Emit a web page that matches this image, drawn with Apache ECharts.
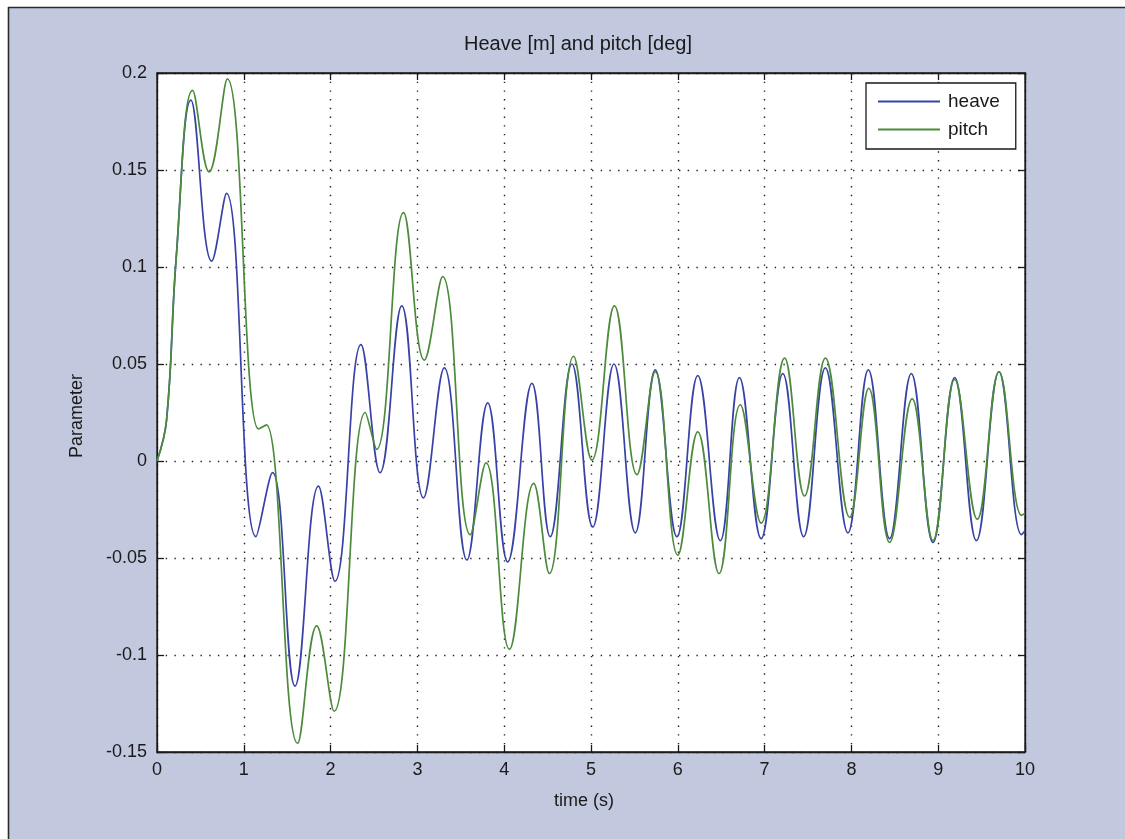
<!DOCTYPE html>
<html>
<head>
<meta charset="utf-8">
<title>Heave and pitch</title>
<script src="https://cdn.jsdelivr.net/npm/echarts@6/dist/echarts.min.js"></script>
<style>
  html, body { margin: 0; padding: 0; background: #ffffff; }
  #chart { width: 1125px; height: 839px; }
</style>
</head>
<body>
<div id="chart"></div>
<script>
// Time axis ticks (s) and parameter axis ticks
var xTicks = [0, 1, 2, 3, 4, 5, 6, 7, 8, 9, 10];
var yTicks = [-0.15, -0.1, -0.05, 0, 0.05, 0.1, 0.15, 0.2];

// Heave response: turning points of the trace (time s, heave m)
var heaveT = [0, 0.11, 0.22, 0.39, 0.63, 0.80, 1.14, 1.33, 1.59, 1.86, 2.05, 2.35, 2.57, 2.82, 3.07, 3.31, 3.57, 3.81,
              4.04, 4.32, 4.53, 4.78, 5.02, 5.265, 5.51, 5.74, 5.99, 6.23, 6.49, 6.71, 6.96, 7.21, 7.45,
              7.70, 7.96, 8.195, 8.44, 8.69, 8.94, 9.19, 9.44, 9.70, 9.96, 10];
var heaveV = [0, 0.021, 0.104, 0.186, 0.103, 0.138, -0.039, -0.006, -0.116, -0.013, -0.062, 0.060, -0.006, 0.080, -0.019,
              0.048, -0.051, 0.030, -0.052, 0.040, -0.039, 0.050, -0.034, 0.050, -0.037, 0.047, -0.039,
              0.044, -0.041, 0.043, -0.040, 0.045, -0.039, 0.048, -0.037, 0.047, -0.040, 0.045, -0.042,
              0.043, -0.041, 0.046, -0.038, -0.036];

// Pitch response: turning points of the trace (time s, pitch deg)
var pitchT = [0, 0.11, 0.22, 0.41, 0.60, 0.81, 1.17, 1.26, 1.62, 1.84, 2.04, 2.40, 2.53, 2.84, 3.08, 3.29, 3.61, 3.79,
              4.06, 4.34, 4.52, 4.80, 5.01, 5.27, 5.53, 5.74, 6.00, 6.23, 6.475, 6.72, 6.96, 7.23, 7.46,
              7.70, 7.98, 8.20, 8.44, 8.70, 8.94, 9.19, 9.45, 9.70, 9.96, 10];
var pitchV = [0, 0.021, 0.104, 0.191, 0.149, 0.197, 0.0165, 0.0186, -0.1455, -0.085, -0.129, 0.025, 0.006, 0.128, 0.052,
              0.095, -0.038, -0.001, -0.097, -0.0115, -0.058, 0.054, 0.0005, 0.080, -0.007, 0.046, -0.0485,
              0.015, -0.058, 0.029, -0.032, 0.053, -0.018, 0.053, -0.029, 0.0375, -0.042, 0.032, -0.041,
              0.042, -0.030, 0.046, -0.028, -0.027];

function pairs(ts, vs) {
  return ts.map(function (t, i) { return [t, vs[i]]; });
}

var FONT = '"Liberation Sans", Arial, sans-serif';
var FIG_BG = '#c2c9df';
var INK = '#1a1a1a';
var HEAVE_COLOR = '#3842a6';
var PITCH_COLOR = '#4b8b3b';

var tickFmt = function (v) { return String(+v.toFixed(2)); };

var gridDots = { show: true, lineStyle: { color: '#222', width: 1.4, type: [1.4, 7.3] } };

function xAxisCfg(pos, labels) {
  return {
    type: 'value', position: pos,
    min: xTicks[0], max: xTicks[xTicks.length - 1], interval: 1,
    axisLine: { show: true, onZero: false, lineStyle: { color: INK, width: 1.3 } },
    axisTick: { show: true, inside: true, length: 7, lineStyle: { color: INK, width: 1.3 } },
    axisLabel: { show: labels, color: INK, fontFamily: FONT, fontSize: 18, margin: 9, formatter: tickFmt },
    splitLine: labels ? gridDots : { show: false }
  };
}
function yAxisCfg(pos, labels) {
  return {
    type: 'value', position: pos,
    min: yTicks[0], max: yTicks[yTicks.length - 1], interval: 0.05,
    axisLine: { show: true, onZero: false, lineStyle: { color: INK, width: 1.3 } },
    axisTick: { show: true, inside: true, length: 7, lineStyle: { color: INK, width: 1.3 } },
    axisLabel: { show: labels, color: INK, fontFamily: FONT, fontSize: 18, margin: 10, formatter: tickFmt },
    splitLine: labels ? gridDots : { show: false }
  };
}

var chart = echarts.init(document.getElementById('chart'), null, { renderer: 'canvas' });

chart.setOption({
  animation: false,
  backgroundColor: FIG_BG,
  grid: {
    left: 157, top: 73, right: 100, bottom: 87,
    show: true, backgroundColor: '#ffffff', borderColor: INK, borderWidth: 1.3,
    outerBoundsMode: 'none', containLabel: false
  },
  xAxis: [xAxisCfg('bottom', true), xAxisCfg('top', false)],
  yAxis: [yAxisCfg('left', true), yAxisCfg('right', false)],
  legend: {
    left: 866, top: 83,
    orient: 'vertical',
    backgroundColor: '#ffffff',
    borderColor: INK, borderWidth: 1.3, borderRadius: 0,
    padding: [9, 16, 10, 12],
    icon: 'rect',
    itemWidth: 62, itemHeight: 2, itemGap: 9,
    textStyle: { color: INK, fontFamily: FONT, fontSize: 19, padding: [0, 0, 0, 3] },
    data: ['heave', 'pitch']
  },
  graphic: [
    // figure frame: white margin strips and the dark frame edge
    { type: 'rect', silent: true, z: -1, shape: { x: 0, y: 0, width: 1125, height: 7 }, style: { fill: '#ffffff' } },
    { type: 'rect', silent: true, z: -1, shape: { x: 0, y: 0, width: 8, height: 839 }, style: { fill: '#ffffff' } },
    { type: 'line', silent: true, shape: { x1: 8, y1: 7.5, x2: 1125, y2: 7.5 }, style: { stroke: '#2a2a2a', lineWidth: 1.6 } },
    { type: 'line', silent: true, shape: { x1: 8.5, y1: 7, x2: 8.5, y2: 839 }, style: { stroke: '#2a2a2a', lineWidth: 1.6 } },
    // title
    { type: 'text', silent: true, x: 578, y: 44,
      style: { text: 'Heave [m] and pitch [deg]', fill: INK, font: '20px ' + FONT, textAlign: 'center', textVerticalAlign: 'middle' } },
    // axis names
    { type: 'text', silent: true, x: 584, y: 801,
      style: { text: 'time (s)', fill: INK, font: '18px ' + FONT, textAlign: 'center', textVerticalAlign: 'middle' } },
    { type: 'text', silent: true, x: 77, y: 416, rotation: Math.PI / 2,
      style: { text: 'Parameter', fill: INK, font: '18px ' + FONT, textAlign: 'center', textVerticalAlign: 'middle' } }
  ],
  series: [
    {
      name: 'heave', type: 'line', xAxisIndex: 0, yAxisIndex: 0,
      data: pairs(heaveT, heaveV),
      symbol: 'none', smooth: 0.42,
      lineStyle: { color: HEAVE_COLOR, width: 1.7 },
      itemStyle: { color: HEAVE_COLOR }
    },
    {
      name: 'pitch', type: 'line', xAxisIndex: 0, yAxisIndex: 0,
      data: pairs(pitchT, pitchV),
      symbol: 'none', smooth: 0.42,
      lineStyle: { color: PITCH_COLOR, width: 1.7 },
      itemStyle: { color: PITCH_COLOR }
    }
  ]
});
</script>
</body>
</html>
